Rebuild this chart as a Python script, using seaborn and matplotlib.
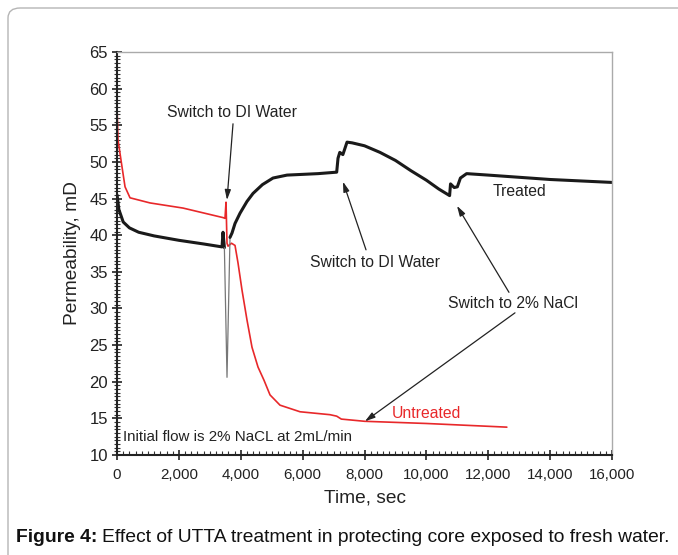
import numpy as np
import pandas as pd
import seaborn as sns
import matplotlib.pyplot as plt
from matplotlib.patches import FancyBboxPatch
from matplotlib.ticker import MultipleLocator, FuncFormatter

# treated core (black), time in sec, permeability in mD
treated_t = [0, 60, 200, 400, 700, 1200, 2000, 2800, 3394, 3426, 3470,
             3555, 3652,
             3717, 3814, 3976, 4200, 4396, 4700, 5042, 5495, 6000, 6500, 7100, 7143, 7200,
             7300, 7434, 7600, 8000, 8500, 9000, 9500, 10000, 10400, 10750,
             10780, 10900, 11000, 11100, 11300, 12000, 13000, 14000, 15000, 16000]
treated_v = [45.5, 43.5, 41.8, 41.0, 40.4, 39.9, 39.3, 38.8, 38.4, 40.4, 38.3,
             20.6, 39.7,
             40.3, 41.6, 43.0, 44.6, 45.7, 46.9, 47.8, 48.2, 48.3, 48.4, 48.6, 50.5, 51.3,
             51.0, 52.7, 52.6, 52.2, 51.3, 50.2, 48.8, 47.5, 46.3, 45.4,
             47.0, 46.5, 46.6, 47.8, 48.4, 48.2, 47.9, 47.6, 47.4, 47.2]

# untreated core (red)
untreated_t = [0, 32, 162, 259, 420, 1067, 2133, 3426, 3490, 3523, 3555, 3588,
               3700, 3814, 3911, 4040, 4202, 4363, 4557, 4751, 4945, 5268, 5915,
               6884, 7100, 7250, 7500, 8000, 10000, 12600]
untreated_v = [57.5, 53.0, 49.3, 46.6, 45.1, 44.4, 43.7, 42.4, 42.3, 44.5, 38.9, 38.5,
               38.9, 38.6, 36.2, 32.5, 28.4, 24.7, 22.0, 20.2, 18.2, 16.8, 15.9,
               15.5, 15.3, 14.9, 14.8, 14.6, 14.3, 13.8]

treated = pd.DataFrame({"t": treated_t, "v": treated_v})
untreated = pd.DataFrame({"t": untreated_t, "v": untreated_v})

sns.set_style("ticks")
plt.rcParams["font.family"] = ["Liberation Sans", "DejaVu Sans"]

fig = plt.figure(figsize=(6.78, 5.55), dpi=100)
ax = fig.add_axes([0.1726, 0.1802, 0.7301, 0.7261])

red = "#e8282a"
sns.lineplot(data=untreated, x="t", y="v", ax=ax, color=red, lw=1.2,
             estimator=None, sort=False)
# black trace, the switching transient in thin grey
sns.lineplot(data=treated.iloc[:11], x="t", y="v", ax=ax, color="#1a1a1a", lw=2.2,
             estimator=None, sort=False)
sns.lineplot(data=treated.iloc[10:13], x="t", y="v", ax=ax, color="#777777", lw=0.9,
             estimator=None, sort=False)
sns.lineplot(data=treated.iloc[12:], x="t", y="v", ax=ax, color="#1a1a1a", lw=2.2,
             estimator=None, sort=False)

ax.set_xlim(0, 16000)
ax.set_ylim(10, 65)
ax.xaxis.set_major_locator(MultipleLocator(2000))
ax.xaxis.set_minor_locator(MultipleLocator(200))
ax.yaxis.set_major_locator(MultipleLocator(5))
ax.yaxis.set_minor_locator(MultipleLocator(0.5))
ax.xaxis.set_major_formatter(FuncFormatter(lambda v, p: f"{int(v):,}"))

txt = "#222222"
ax.tick_params(axis="both", which="major", colors="#222222",
               width=1.2, length=7, direction="inout")
ax.tick_params(axis="x", which="major", labelsize=10.9, pad=6)
ax.tick_params(axis="y", which="major", labelsize=12, pad=3)
ax.tick_params(axis="x", which="minor", width=0.8, length=3, direction="in",
               colors="#333333")
ax.tick_params(axis="y", which="minor", width=0.8, length=4, direction="inout",
               colors="#333333")

for s in ["left", "bottom"]:
    ax.spines[s].set_linewidth(1.5)
    ax.spines[s].set_color("#222222")
for s in ["top", "right"]:
    ax.spines[s].set_linewidth(1.0)
    ax.spines[s].set_color("#aaaaaa")

ax.set_xlabel("Time, sec", fontsize=13.8, color=txt, labelpad=5)
ax.set_ylabel("Permeability, mD", fontsize=13.8, color=txt, labelpad=6)

fs = 11.3
akw = dict(arrowstyle="-|>,head_length=0.6,head_width=0.18", color="#222222", lw=0.9,
           shrinkA=0, shrinkB=0)
ax.text(3717, 56.8, "Switch to DI Water", ha="center", va="center", fontsize=fs, color=txt)
ax.annotate("", xy=(3555, 44.8), xytext=(3749, 55.2), arrowprops=akw)
ax.text(8339, 36.3, "Switch to DI Water", ha="center", va="center", fontsize=fs, color=txt)
ax.annotate("", xy=(7304, 47.3), xytext=(8048, 38.0), arrowprops=akw)
ax.text(13025, 45.9, "Treated", ha="center", va="center", fontsize=fs, color=txt)
ax.text(12799, 30.7, "Switch to 2% NaCl", ha="center", va="center", fontsize=fs, color=txt)
ax.annotate("", xy=(10989, 44.0), xytext=(12669, 32.2), arrowprops=akw)
ax.annotate("", xy=(8015, 14.6), xytext=(12863, 29.4), arrowprops=akw)
ax.text(9987, 15.6, "Untreated", ha="center", va="center", fontsize=fs, color=red)
ax.text(194, 12.5, "Initial flow is 2% NaCL at 2mL/min", ha="left", va="center",
        fontsize=10.9, color=txt)

# frame around the figure panel
box = FancyBboxPatch((8 / 678, -0.05), 1.2, 1.05 - 8 / 555,
                     boxstyle="round,pad=0,rounding_size=0.018",
                     transform=fig.transFigure, fill=False, ec="#b5b5b5", lw=1.0)
fig.patches.append(box)

# caption, bold lead then normal text
cap1 = fig.text(16 / 678, 1 - 537 / 555, "Figure 4:", fontsize=13.85, fontweight="bold",
                ha="left", va="center", color="#111111")
fig.canvas.draw()
bb = cap1.get_window_extent()
fig.text(bb.x1 / 678 + 5 / 678, 1 - 537 / 555,
         "Effect of UTTA treatment in protecting core exposed to fresh water.",
         fontsize=13.85, ha="left", va="center", color="#111111")

fig.savefig("out.png", dpi=100)
